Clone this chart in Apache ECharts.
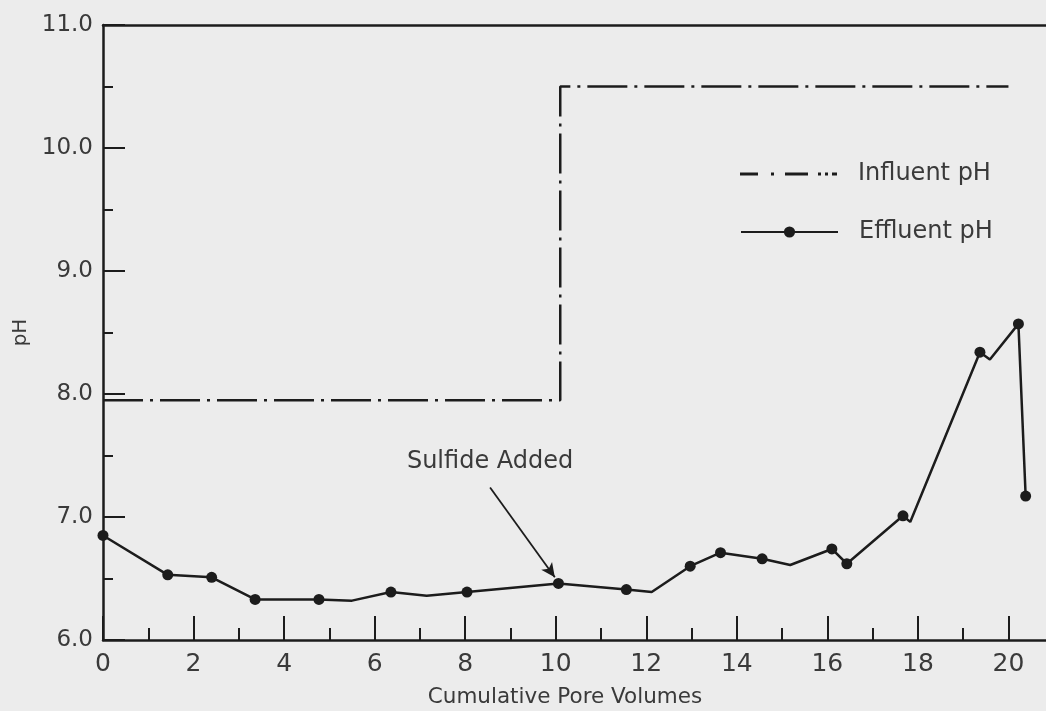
<!DOCTYPE html>
<html>
<head>
<meta charset="utf-8">
<script src="https://cdn.jsdelivr.net/npm/echarts@6/dist/echarts.min.js"></script>
<style>
  html, body { margin: 0; padding: 0; background: #ececec; overflow: hidden; }
  #chart { width: 1046px; height: 711px; }
</style>
</head>
<body>
<div id="chart"></div>
<script>
// ---- Data ----
const xTickValues = [0, 2, 4, 6, 8, 10, 12, 14, 16, 18, 20];
const yTickValues = [6.0, 7.0, 8.0, 9.0, 10.0, 11.0];

// Influent pH (step profile)
const influentX  = [0, 10.1, 10.1, 20.0];
const influentPH = [7.95, 7.95, 10.5, 10.5];

// Effluent pH measured points
const effluentX  = [0, 1.43, 2.40, 3.36, 4.77, 6.36, 8.04, 10.06, 11.56, 12.97, 13.64, 14.56, 16.10, 16.43, 17.67, 19.37, 20.22, 20.38];
const effluentPH = [6.85, 6.53, 6.51, 6.33, 6.33, 6.39, 6.39, 6.46, 6.41, 6.60, 6.71, 6.66, 6.74, 6.62, 7.01, 8.34, 8.57, 7.17];

// Bends of the hand-drawn effluent curve (no marker)
const bendX  = [5.50, 7.15, 12.12, 15.18, 17.83, 19.59];
const bendPH = [6.32, 6.36, 6.39, 6.61, 6.96, 8.28];

// Annotation "Sulfide Added": text position, arrow start, arrow end
const noteText = 'Sulfide Added';
const notePos  = [8.55, 7.45];
const arrowFrom = [8.55, 7.24];
const arrowTo   = [9.98, 6.51];

// ---- Build series data ----
const influentData = influentX.map((x, i) => [x, influentPH[i]]);
const effluentData = effluentX.map((x, i) => ({ value: [x, effluentPH[i]] }))
  .concat(bendX.map((x, i) => ({ value: [x, bendPH[i]], symbol: 'none' })))
  .sort((a, b) => a.value[0] - b.value[0]);

const ink = '#1c1c1c';
const txt = '#3a3a3a';
const font = 'DejaVu Sans, Liberation Sans, sans-serif';
const dashDotIcon = 'path://M0,0h18v3h-18z M31,0h3v3h-3z M45,0h23v3h-23z M78,0h3v3h-3z M85,0h3v3h-3z M92,0h5v3h-5z';
const xMax = 22;

const chart = echarts.init(document.getElementById('chart'), null, { renderer: 'canvas' });
chart.setOption({
  backgroundColor: '#ececec',
  animation: false,
  grid: { left: 103, width: 996, top: 25, bottom: 71, containLabel: false, outerBoundsMode: 'none' },
  legend: [{
    orient: 'vertical',
    left: 735,
    top: 157,
    itemWidth: 97,
    itemHeight: 3,
    textStyle: { fontFamily: font, fontSize: 24, color: txt, padding: [0, 0, 0, 16] },
    data: [{ name: 'Influent pH', icon: dashDotIcon }]
  }, {
    orient: 'vertical',
    left: 735,
    top: 215,
    itemWidth: 97,
    itemHeight: 14,
    textStyle: { fontFamily: font, fontSize: 24, color: txt, padding: [0, 0, 0, 16] },
    data: ['Effluent pH']
  }],
  xAxis: [{
    type: 'value',
    min: 0,
    max: xMax,
    interval: 2,
    name: 'Cumulative Pore Volumes',
    nameLocation: 'middle',
    nameGap: 46,
    nameTextStyle: { fontFamily: font, fontSize: 21.5, color: txt, padding: [0, 72, 0, 0] },
    axisLine: { show: true, onZero: false, lineStyle: { color: ink, width: 2.5 } },
    axisTick: { show: true, inside: true, length: 24, lineStyle: { color: ink, width: 2 } },
    minorTick: { show: true, splitNumber: 2, length: 12, lineStyle: { color: ink, width: 2 } },
    axisLabel: {
      fontFamily: font, fontSize: 25, color: txt, margin: 12,
      formatter: v => (xTickValues.indexOf(v) >= 0 ? String(v) : '')
    },
    splitLine: { show: false },
    minorSplitLine: { show: false }
  }, {
    type: 'value',
    position: 'top',
    min: 0,
    max: xMax,
    axisLine: { show: true, onZero: false, lineStyle: { color: ink, width: 2.5 } },
    axisTick: { show: false },
    axisLabel: { show: false },
    splitLine: { show: false }
  }],
  yAxis: {
    type: 'value',
    min: 6,
    max: 11,
    interval: 1,
    name: 'pH',
    nameLocation: 'middle',
    nameGap: 70,
    nameRotate: 90,
    nameTextStyle: { fontFamily: font, fontSize: 20, color: txt },
    axisLine: { show: true, onZero: false, lineStyle: { color: ink, width: 2.5 } },
    axisTick: { show: true, inside: true, length: 22, lineStyle: { color: ink, width: 2 } },
    minorTick: { show: true, splitNumber: 2, length: 10, lineStyle: { color: ink, width: 2 } },
    axisLabel: {
      fontFamily: font, fontSize: 23, color: txt, margin: 10,
      formatter: v => (yTickValues.indexOf(v) >= 0 ? v.toFixed(1) : '')
    },
    splitLine: { show: false },
    minorSplitLine: { show: false }
  },
  series: [{
    name: 'Influent pH',
    type: 'line',
    data: influentData,
    symbol: 'none',
    itemStyle: { color: ink },
    lineStyle: { color: ink, width: 2.5, type: [40, 7, 3, 7] },
    z: 3
  }, {
    name: 'Effluent pH',
    type: 'line',
    data: effluentData,
    symbol: 'circle',
    symbolSize: 11,
    itemStyle: { color: ink },
    lineStyle: { color: ink, width: 2.5 },
    z: 4,
    markLine: {
      silent: true,
      symbol: ['none', 'arrow'],
      symbolSize: [10, 14],
      label: { show: false },
      lineStyle: { color: ink, width: 1.8, type: 'solid' },
      data: [[{ coord: arrowFrom }, { coord: arrowTo }]]
    },
    markPoint: {
      silent: true,
      symbol: 'circle',
      symbolSize: 0,
      data: [{
        coord: notePos,
        label: {
          show: true, position: 'inside', formatter: noteText,
          fontFamily: font, fontSize: 24, color: txt
        }
      }]
    }
  }]
});
</script>
</body>
</html>
